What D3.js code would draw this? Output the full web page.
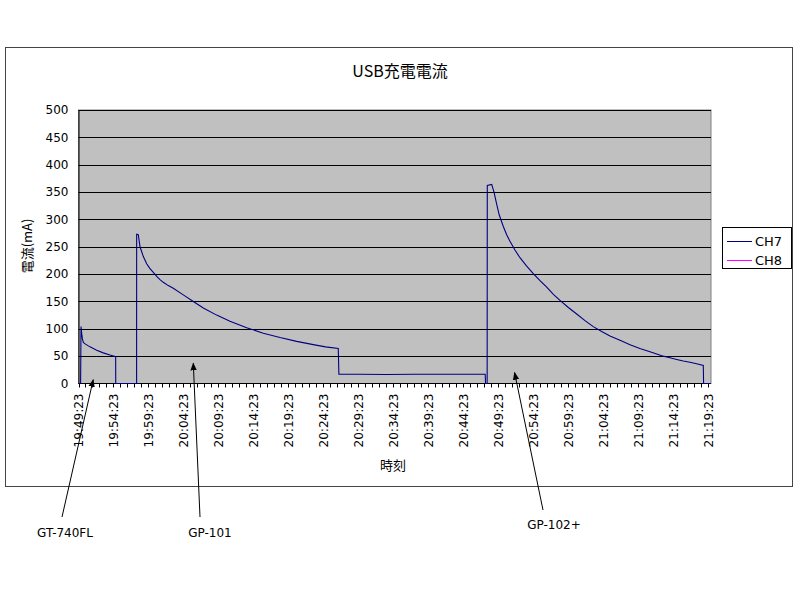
<!DOCTYPE html>
<html><head><meta charset="utf-8">
<script src="https://cdn.jsdelivr.net/npm/d3@7"></script>
<style>body{margin:0;background:#fff}svg{display:block}</style>
</head><body>
<svg id="c" width="800" height="600"></svg>
<script>
// ---- data ----
const title = "USB充電電流";
const xTitle = "時刻";
const yTitle = "電流(mA)";
const seriesNames = ["CH7", "CH8"];
// minutes after 19:49:23
const ch7Minutes = [0, 0.3, 0.36, 0.45, 0.55, 0.69, 1.0, 1.64, 2.6, 3.54, 4.5, 5.31, 5.32, 8.3,
  8.31, 8.54, 8.79, 9.26, 9.74, 10.21, 10.69, 11.17, 11.64, 12.11, 12.83, 13.54, 14.97, 16.4,
  17.83, 19.74, 21.64, 24.03, 26.4, 28.79, 31.17, 33.54, 35.3, 37.11, 37.2, 40, 44, 48, 52, 56,
  58.1, 58.15, 58.38, 58.4, 59.03, 59.36, 59.74, 60.11, 60.69, 61.17, 61.64, 62.35, 63.07, 64.0,
  64.97, 65.93, 66.89, 67.84, 68.79, 69.98, 71.17, 72.36, 73.54, 74.74, 75.93, 77.36, 78.79,
  80.2, 81.64, 82.6, 83.54, 84.5, 85.46, 86.4, 87.36, 88.3, 89.26, 89.3, 90.36];
const ch7Values = [0, 0, 104, 92, 82, 75, 72, 67, 61, 56, 52, 49, 0, 0,
  273, 272, 250, 232, 219, 210, 203, 196, 190, 185, 179, 174, 162, 150,
  138, 125, 114, 102, 92, 84, 77, 71, 67, 64, 17, 17, 16.5, 17, 17, 17,
  17, 0, 0, 362, 364, 350, 328, 308, 287, 272, 260, 244, 230, 215,
  201, 188, 176, 163, 152, 139, 127, 115, 104, 95, 87, 79, 71,
  64, 58, 54, 50, 47, 44, 41, 39, 36, 33, 0, 0];
const ch8Minutes = [];
const ch8Values = [];
const yTicks = [0, 50, 100, 150, 200, 250, 300, 350, 400, 450, 500];
const xTickMinutes = [0, 5, 10, 15, 20, 25, 30, 35, 40, 45, 50, 55, 60, 65, 70, 75, 80, 85, 90];
const xTickLabels = ["19:49:23","19:54:23","19:59:23","20:04:23","20:09:23","20:14:23","20:19:23",
  "20:24:23","20:29:23","20:34:23","20:39:23","20:44:23","20:49:23","20:54:23","20:59:23",
  "21:04:23","21:09:23","21:14:23","21:19:23"];
const annotations = [
  {label: "GT-740FL", minute: 2.1, value: 7},
  {label: "GP-101", minute: 16.4, value: 37},
  {label: "GP-102+", minute: 62.3, value: 20}
];

// ---- layout ----
const svg = d3.select("#c");
const L = 78.5, R = 711, T = 110, B = 383.5;
const x = d3.scaleLinear().domain([0, 90.36]).range([L, R]);
const y = d3.scaleLinear().domain([0, 500]).range([B, T]);
const font = "'DejaVu Sans', sans-serif";
const cjk = "'Noto Sans CJK JP', sans-serif";

svg.append("rect").attr("x", 5.5).attr("y", 47.5).attr("width", 787).attr("height", 439)
  .attr("fill", "#fff").attr("stroke", "#444").attr("stroke-width", 1);

svg.append("rect").attr("x", L).attr("y", T).attr("width", R - L).attr("height", B - T)
  .attr("fill", "#c0c0c0").attr("stroke", "#808080");

// gridlines
svg.append("g").selectAll("line").data(yTicks.filter(d => d > 0)).join("line")
  .attr("x1", L).attr("x2", R)
  .attr("y1", d => Math.round(y(d)) + 0.5).attr("y2", d => Math.round(y(d)) + 0.5)
  .attr("stroke", "#000").attr("stroke-width", 1);

// y axis
const yAxis = d3.axisLeft(y).tickValues(yTicks).tickSize(0).tickPadding(10);
const gy = svg.append("g").attr("transform", `translate(${L},0)`).call(yAxis);
gy.select(".domain").attr("stroke", "#000");
gy.selectAll("text").attr("font-family", font).attr("font-size", 12).attr("fill", "#000");

// x axis minor ticks
const minor = d3.range(0, 91, 1);
svg.append("g").selectAll("line").data(minor).join("line")
  .attr("x1", d => Math.round(x(d)) + 0.5).attr("x2", d => Math.round(x(d)) + 0.5)
  .attr("y1", B - 0.5).attr("y2", B + 4).attr("stroke", "#000");
svg.append("line").attr("x1", L).attr("x2", R).attr("y1", B).attr("y2", B).attr("stroke", "#000");

const xAxis = d3.axisBottom(x).tickValues(xTickMinutes)
  .tickFormat((d, i) => xTickLabels[i]).tickSize(0);
const gx = svg.append("g").attr("transform", `translate(0,${B})`).call(xAxis);
gx.select(".domain").remove();
gx.selectAll("text").attr("font-family", font).attr("font-size", 12).attr("fill", "#000")
  .attr("transform", "rotate(-90)").attr("text-anchor", "end")
  .attr("x", -10).attr("y", 0).attr("dy", "0.35em");

// series
const line = d3.line().x(d => x(d[0])).y(d => y(d[1]));
svg.append("path").datum(ch7Minutes.map((m, i) => [m, ch7Values[i]]))
  .attr("d", line).attr("fill", "none").attr("stroke", "#000080").attr("stroke-width", 1.1);
svg.append("path").datum(ch8Minutes.map((m, i) => [m, ch8Values[i]]))
  .attr("d", line).attr("fill", "none").attr("stroke", "#ff00ff").attr("stroke-width", 1);

// titles
svg.append("text").attr("x", 400).attr("y", 77).attr("text-anchor", "middle")
  .attr("font-family", cjk).attr("font-size", 16).text(title);
svg.append("text").attr("x", 393).attr("y", 470).attr("text-anchor", "middle")
  .attr("font-family", cjk).attr("font-size", 13).text(xTitle);
svg.append("text").attr("transform", "translate(32,246) rotate(-90)").attr("text-anchor", "middle")
  .attr("font-family", cjk).attr("font-size", 13).text(yTitle);

// legend
const lg = svg.append("g");
lg.append("rect").attr("x", 722.5).attr("y", 227.5).attr("width", 69).attr("height", 41)
  .attr("fill", "#fff").attr("stroke", "#000");
const colors = ["#000080", "#ff00ff"];
seriesNames.forEach((n, i) => {
  const yy = 241 + i * 19;
  lg.append("line").attr("x1", 727).attr("x2", 752).attr("y1", yy + 0.5).attr("y2", yy + 0.5)
    .attr("stroke", colors[i]);
  lg.append("text").attr("x", 755).attr("y", yy + 5).attr("font-family", font)
    .attr("font-size", 13).text(n);
});

// annotations
svg.append("defs").append("marker").attr("id", "ah").attr("viewBox", "0 0 10 10")
  .attr("refX", 9).attr("refY", 5).attr("markerWidth", 8).attr("markerHeight", 8)
  .attr("orient", "auto-start-reverse").append("path").attr("d", "M0,1 L10,5 L0,9 z").attr("fill", "#000");
const annoPos = [
  {lx: 65, ly: 537, sx: 62, sy: 517},
  {lx: 210, ly: 537, sx: 200, sy: 517},
  {lx: 554, ly: 529, sx: 543, sy: 510}
];
annotations.forEach((a, i) => {
  const p = annoPos[i];
  svg.append("line").attr("x1", p.sx).attr("y1", p.sy).attr("x2", x(a.minute)).attr("y2", y(a.value))
    .attr("stroke", "#000").attr("stroke-width", 1).attr("marker-end", "url(#ah)");
  svg.append("text").attr("x", p.lx).attr("y", p.ly).attr("text-anchor", "middle")
    .attr("font-family", font).attr("font-size", 12).text(a.label);
});
</script>
</body></html>
